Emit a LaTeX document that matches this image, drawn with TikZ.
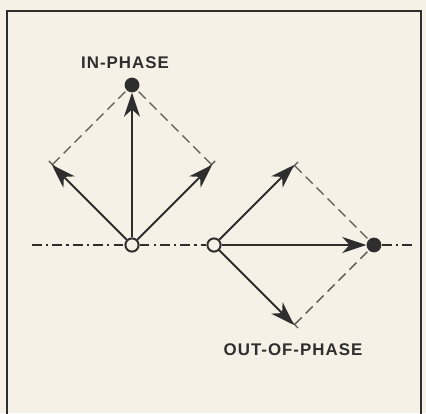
\documentclass[tikz,border=0pt]{standalone}
\usepackage{fontspec}
\setmainfont{Liberation Sans}
\usetikzlibrary{arrows.meta}
\definecolor{paper}{HTML}{F6F1E6}
\definecolor{ink}{HTML}{2E2E2E}
\definecolor{dashink}{HTML}{5A5A52}
\tikzset{
  origin/.style={circle,draw=ink,line width=1.4pt,fill=paper,inner sep=0pt,minimum size=3.3mm},
  tipdot/.style={circle,fill=ink,inner sep=0pt,minimum size=3.7mm},
  vec/.style={->,line width=1.5pt,draw=ink},
  side/.style={dashed,dash pattern=on 7pt off 4pt,line width=1pt,draw=dashink},
  axis/.style={line width=0.9pt,draw=ink,dash pattern=on 7pt off 3pt on 1.5pt off 3pt},
  lbl/.style={text=ink,font=\fontsize{12}{14}\selectfont\bfseries\addfontfeatures{LetterSpace=6}}
}
\begin{document}
\begin{tikzpicture}[>={Stealth[length=6mm,width=4mm,inset=1.8mm]}]
\fill[paper] (0,0) rectangle (10.65,10.325);
\useasboundingbox (0,0) rectangle (10.65,10.325);
\draw[ink,line width=1.4pt] (0.175,-0.1) -- (0.175,10.05) -- (10.525,10.05) -- (10.525,-0.1);

% in-phase
\node[origin] (o1) at (3.3,4.2) {};
\node[tipdot] (s1) at (3.3,8.2) {};
\coordinate (a1) at (1.3,6.2);
\coordinate (b1) at (5.3,6.2);

% out-of-phase
\node[origin] (o2) at (5.35,4.2) {};
\node[tipdot] (s2) at (9.35,4.2) {};
\coordinate (a2) at (7.35,6.2);
\coordinate (b2) at (7.35,2.2);

% reference line
\coordinate (xl) at (0.8,4.2);
\coordinate (xr) at (10.375,4.2);
\draw[axis] (xl) -- (o1);
\draw[axis] (o1) -- (o2);
\draw[axis] (s2) -- (xr);

\draw[side,{Bar[width=2.5mm]}-] (a1) -- (s1);
\draw[side,{Bar[width=2.5mm]}-] (b1) -- (s1);
\draw[side,{Bar[width=2.5mm]}-] (a2) -- (s2);
\draw[side,{Bar[width=2.5mm]}-] (b2) -- (s2);

\draw[vec] (o1) -- (s1);
\draw[vec] (o1) -- (a1);
\draw[vec] (o1) -- (b1);
\draw[vec] (o2) -- (s2);
\draw[vec] (o2) -- (a2);
\draw[vec] (o2) -- (b2);

\node[lbl] (t1) at (3.125,8.75) {IN-PHASE};
\node[lbl] (t2) at (7.325,1.575) {OUT-OF-PHASE};
\end{tikzpicture}
\end{document}
